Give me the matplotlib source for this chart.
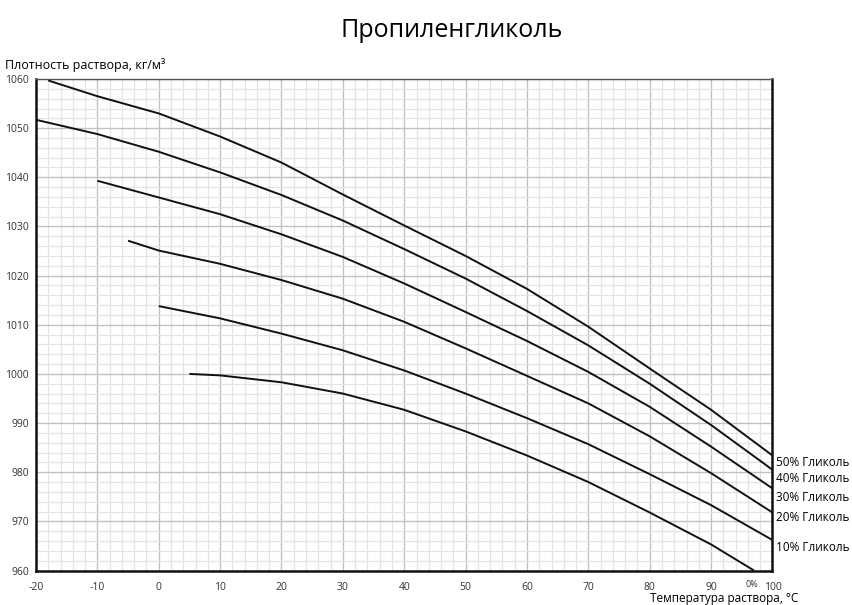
import numpy as np
import matplotlib
matplotlib.use("Agg")
import matplotlib.pyplot as plt
from matplotlib.ticker import MultipleLocator

plt.rcParams['font.family'] = ['Open Sans', 'DejaVu Sans']
plt.rcParams['axes.unicode_minus'] = False

# density of propylene glycol solutions, kg/m3, vs temperature, C
t_50 = [-18, -10, 0, 10, 20, 30, 40, 50, 60, 70, 80, 90, 100]
rho_50 = [1059.7, 1056.5, 1053.0, 1048.3, 1043.0, 1036.5, 1030.2, 1024.0, 1017.3, 1009.6, 1001.1, 992.7, 983.4]

t_40 = [-20, -10, 0, 10, 20, 30, 40, 50, 60, 70, 80, 90, 100]
rho_40 = [1051.7, 1048.8, 1045.2, 1041.0, 1036.4, 1031.2, 1025.4, 1019.4, 1012.8, 1005.8, 998.0, 989.6, 980.5]

t_30 = [-10, 0, 10, 20, 30, 40, 50, 60, 70, 80, 90, 100]
rho_30 = [1039.3, 1035.9, 1032.5, 1028.4, 1023.8, 1018.4, 1012.6, 1006.7, 1000.4, 993.3, 985.2, 976.7]

t_20 = [-5, 0, 10, 20, 30, 40, 50, 60, 70, 80, 90, 100]
rho_20 = [1027.1, 1025.1, 1022.4, 1019.1, 1015.3, 1010.6, 1005.2, 999.6, 994.0, 987.3, 979.8, 971.8]

t_10 = [0, 10, 20, 30, 40, 50, 60, 70, 80, 90, 100]
rho_10 = [1013.8, 1011.3, 1008.2, 1004.8, 1000.7, 996.0, 991.0, 985.7, 979.6, 973.3, 966.2]

t_0 = [5, 10, 20, 30, 40, 50, 60, 70, 80, 90, 97]
rho_0 = [1000.0, 999.7, 998.3, 996.0, 992.7, 988.3, 983.4, 978.0, 971.8, 965.3, 960.0]

series = [(t_50, rho_50), (t_40, rho_40), (t_30, rho_30),
          (t_20, rho_20), (t_10, rho_10), (t_0, rho_0)]

curve_labels = ['50% Гликоль', '40% Гликоль', '30% Гликоль', '20% Гликоль', '10% Гликоль']
label_y = [981.9, 978.8, 974.9, 970.7, 964.6]

fig = plt.figure(figsize=(8.53, 6.05), dpi=100)
ax = fig.add_axes([0.0422, 0.057, 0.8634, 0.8124])

for t, rho in series:
    ax.plot(t, rho, color='#111111', lw=1.4, solid_capstyle='butt',
            solid_joinstyle='round', zorder=3)

ax.set_xlim(-20, 100)
ax.set_ylim(960, 1060)
ax.xaxis.set_major_locator(MultipleLocator(10))
ax.yaxis.set_major_locator(MultipleLocator(10))
ax.xaxis.set_minor_locator(MultipleLocator(2))
ax.yaxis.set_minor_locator(MultipleLocator(2))
ax.grid(which='major', color='#c2c2c2', lw=1.0)
ax.grid(which='minor', color='#e4e4e4', lw=0.9)
ax.set_axisbelow(True)

ax.tick_params(which='both', length=0)
ax.tick_params(axis='x', pad=8, labelsize=7.5, labelcolor='#333333')
ax.tick_params(axis='y', pad=5, labelsize=7.5, labelcolor='#333333')

for side in ['left', 'bottom', 'right']:
    ax.spines[side].set_linewidth(1.8)
    ax.spines[side].set_color('#111111')
ax.spines['top'].set_linewidth(1.0)
ax.spines['top'].set_color('#555555')

for txt, y in zip(curve_labels, label_y):
    ax.text(100.5, y, txt, fontsize=8.5, va='center', ha='left', clip_on=False)

ax.annotate('0%', xy=(96.6, 960), xytext=(0, -7), textcoords='offset points',
            ha='center', va='top', fontsize=6.5, color='#333333')

fig.text(0.529, 0.949, 'Пропиленгликоль', fontsize=18, ha='center', va='center')
fig.text(0.006, 0.893, 'Плотность раствора, кг/м³', fontsize=9, ha='left', va='center')
fig.text(0.849, 0.011, 'Температура раствора, °С', fontsize=8.5, ha='center', va='center')

fig.savefig('out.png', dpi=100)
